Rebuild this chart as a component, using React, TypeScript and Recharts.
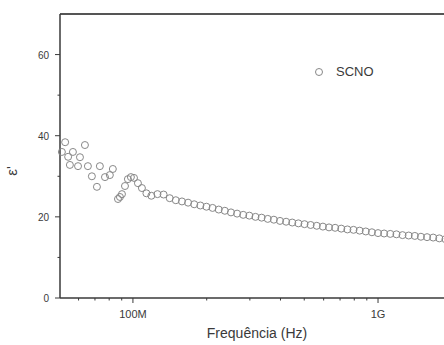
import { ScatterChart, Scatter, XAxis, YAxis, ReferenceLine } from "recharts"

const freqMHz = [
  51.3, 52.9, 54.4, 55.3, 56.9, 59.7, 60.8, 63.7, 65.5, 68.0, 71.3, 73.3, 76.9, 80.5, 82.8,
  86.9, 88.5, 90.2, 92.8, 95.4, 98.1, 101, 104.8, 108.8, 113.5,
  118.9, 125.9, 133.4, 141.3, 149.6, 158.5, 167.9, 177.8, 188.4, 199.5,
  211.3, 223.9, 237.1, 251.2, 266.1, 281.8, 298.5, 316.2, 335.0, 354.8,
  375.8, 398.1, 421.7, 446.7, 473.2, 501.2, 530.9, 562.3, 595.7, 631.0,
  668.3, 707.9, 749.9, 794.3, 841.4, 891.3, 944.1, 1000, 1059, 1122,
  1189, 1259, 1334, 1413, 1496, 1585, 1679, 1778, 1884,
]
const epsReal = [
  36.0, 38.4, 34.8, 32.8, 36.0, 32.5, 34.7, 37.7, 32.5, 30.0, 27.4, 32.5, 29.8, 30.3, 31.8,
  24.4, 24.9, 25.6, 27.6, 29.3, 29.8, 29.6, 28.3, 27.1, 25.8,
  25.2, 25.6, 25.5, 24.6, 24.1, 23.8, 23.5, 23.1, 22.8, 22.5,
  22.2, 21.8, 21.5, 21.1, 20.8, 20.5, 20.3, 20.0, 19.8, 19.5,
  19.3, 19.0, 18.8, 18.6, 18.4, 18.2, 18.0, 17.8, 17.6, 17.4,
  17.3, 17.1, 16.9, 16.8, 16.6, 16.4, 16.2, 16.0, 15.9, 15.8,
  15.7, 15.5, 15.4, 15.3, 15.1, 15.0, 14.9, 14.7, 14.5,
]

const xTicks = [60e6, 70e6, 80e6, 90e6, 100e6, 200e6, 300e6, 400e6, 500e6, 600e6, 700e6, 800e6, 900e6, 1e9, 2e9]
const xLabels: Record<number, string> = { 100e6: "100M", 1e9: "1G" }
const yTicks = [0, 10, 20, 30, 40, 50, 60]
const yLabels = [0, 20, 40, 60]

const data = freqMHz.map((f, i) => ({ f: f * 1e6, eps: epsReal[i] }))

const font = "'Liberation Sans', Arial, sans-serif"
const ink = "#3a3a3a"

const XTick = (props: any) => {
  const { x, y, payload } = props
  const label = xLabels[payload.value]
  return (
    <g>
      <line x1={x} y1={y} x2={x} y2={y + (label ? 5 : 2.5)} stroke={ink} strokeWidth={1} />
      {label && (
        <text x={x} y={y + 20} textAnchor="middle" fontSize={11} fill={ink} fontFamily={font}>
          {label}
        </text>
      )}
    </g>
  )
}

const YTick = (props: any) => {
  const { x, y, payload } = props
  const major = yLabels.includes(payload.value)
  return (
    <g>
      <line x1={x - (major ? 5 : 2.5)} y1={y} x2={x} y2={y} stroke={ink} strokeWidth={1} />
      {major && (
        <text x={x - 11} y={y + 4} textAnchor="end" fontSize={10} fill={ink} fontFamily={font}>
          {payload.value}
        </text>
      )}
    </g>
  )
}

const Dot = (props: any) => (
  <circle cx={props.cx} cy={props.cy} r={3.5} fill="white" fillOpacity={0} stroke="#888" strokeWidth={1} />
)

const App = () => {
  return (
    <div style={{ position: "absolute", left: 0, top: 0, width: 444, height: 345, overflow: "hidden", background: "white" }}>
      <ScatterChart width={460} height={345} margin={{ top: 14, right: 0, bottom: 0, left: 0 }}>
        <XAxis
          type="number"
          dataKey="f"
          scale="log"
          domain={[50.4e6, 2.16e9]}
          ticks={xTicks}
          interval={0}
          tick={<XTick />}
          tickLine={false}
          tickSize={0}
          tickMargin={0}
          height={47}
          axisLine={{ stroke: ink, strokeWidth: 1.5 }}
          label={() => (
            <text x={257} y={338} textAnchor="middle" fontSize={14} fill={ink} fontFamily={font}>
              Frequência (Hz)
            </text>
          )}
        />
        <YAxis
          type="number"
          dataKey="eps"
          domain={[0, 70]}
          ticks={yTicks}
          interval={0}
          tick={<YTick />}
          tickLine={false}
          tickSize={0}
          tickMargin={0}
          width={60}
          axisLine={{ stroke: ink, strokeWidth: 1.5 }}
          label={() => (
            <text x={17} y={171} transform="rotate(-90 17 171)" textAnchor="middle" fontSize={15} fill={ink} fontFamily={font}>
              ε'
            </text>
          )}
        />
        <ReferenceLine y={70} stroke="#555" strokeWidth={2} />
        <Scatter data={data} shape={<Dot />} isAnimationActive={false} />
      </ScatterChart>
      <div style={{ position: "absolute", left: 314, top: 64, display: "flex", alignItems: "center", fontFamily: font, fontSize: 13, color: ink }}>
        <svg width={10} height={10} style={{ marginRight: 12 }}>
          <circle cx={5} cy={5} r={3.5} fill="none" stroke="#888" strokeWidth={1} />
        </svg>
        <span>SCNO</span>
      </div>
    </div>
  )
}

export default App
